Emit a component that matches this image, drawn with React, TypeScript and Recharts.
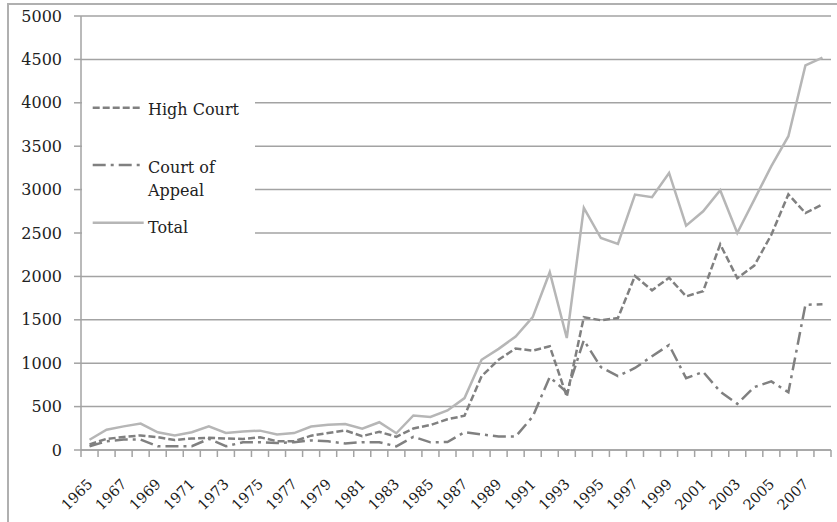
import React from 'react';
import { LineChart, Line, XAxis, YAxis, CartesianGrid } from 'recharts';

const years = [
  1965, 1966, 1967, 1968, 1969, 1970, 1971, 1972, 1973, 1974, 1975,
  1976, 1977, 1978, 1979, 1980, 1981, 1982, 1983, 1984, 1985, 1986,
  1987, 1988, 1989, 1990, 1991, 1992, 1993, 1994, 1995, 1996, 1997,
  1998, 1999, 2000, 2001, 2002, 2003, 2004, 2005, 2006, 2007, 2008,
];

const highCourt = [
  65, 128, 150, 168, 147, 115, 132, 140, 132, 128, 147,
  102, 100, 165, 195, 225, 160, 210, 152, 248, 288, 354,
  395, 850, 1040, 1170, 1145, 1195, 615, 1530, 1495, 1520, 2005,
  1840, 1985, 1770, 1830, 2370, 1980, 2125, 2480, 2945, 2730, 2830,
];

const courtOfAppeal = [
  43, 100, 120, 120, 43, 43, 43, 128, 43, 89, 89,
  81, 90, 110, 100, 75, 90, 90, 42, 152, 88, 92,
  205, 180, 155, 155, 385, 840, 665, 1265, 955, 850, 945,
  1080, 1210, 827, 900, 673, 532, 725, 790, 665, 1673, 1680,
];

const total = [
  118, 234, 272, 304, 204, 168, 204, 272, 197, 212, 223,
  180, 195, 270, 290, 300, 245, 320, 193, 398, 380, 455,
  598, 1040, 1165, 1308, 1530, 2048, 1290, 2790, 2442, 2375, 2942,
  2912, 3192, 2585, 2750, 2992, 2500, 2885, 3270, 3615, 4430, 4520,
];

const yTicks = [0, 500, 1000, 1500, 2000, 2500, 3000, 3500, 4000, 4500, 5000];
const labelYears = years.filter((_, i) => i % 2 === 0);
const boundaries = [...years.map((y) => y - 0.5), years[years.length - 1] + 0.5];
const xTicks = [...boundaries, ...labelYears].sort((a, b) => a - b);

const data = years.map((year, i) => ({
  year,
  hc: highCourt[i],
  coa: courtOfAppeal[i],
  total: total[i],
}));

const GRID = '#a3a3a3';
const DARK = '#808080';
const LIGHT = '#b6b6b6';
const FONT = '"DejaVu Serif", serif';
const HC_DASH = '7 3';
const COA_DASH = '13 5 3 5';

const XTick = (props: any) => {
  const { x, y, payload } = props;
  const v = payload.value;
  if (Number.isInteger(v)) {
    const ax = x + 4;
    const ay = y + 35;
    return (
      <text
        x={ax}
        y={ay}
        textAnchor="end"
        transform={`rotate(-45, ${ax}, ${ay})`}
        fontFamily={FONT}
        fontSize={14.5}
        fill="#1a1a1a"
      >
        {v}
      </text>
    );
  }
  return <line x1={x} x2={x} y1={y} y2={y + 7} stroke={GRID} strokeWidth={1.5} />;
};

const LegendBox = () => (
  <div
    style={{
      position: 'absolute',
      left: 82,
      top: 85,
      width: 173,
      height: 160,
      background: '#fff',
    }}
  >
    <svg width={173} height={160}>
      <line x1={10.7} x2={60.7} y1={22.7} y2={22.7} stroke={DARK} strokeWidth={2.5} strokeDasharray={HC_DASH} />
      <text x={66} y={30} fontFamily={FONT} fontSize={16} fill="#222">High Court</text>
      <line x1={10.7} x2={60.7} y1={80} y2={80} stroke={DARK} strokeWidth={2.5} strokeDasharray={COA_DASH} />
      <text x={66} y={88} fontFamily={FONT} fontSize={16} fill="#222">Court of</text>
      <text x={66} y={111} fontFamily={FONT} fontSize={16} fill="#222">Appeal</text>
      <line x1={10.7} x2={61.7} y1={137.7} y2={137.7} stroke={LIGHT} strokeWidth={2.5} />
      <text x={66} y={148} fontFamily={FONT} fontSize={16} fill="#222">Total</text>
    </svg>
  </div>
);

export default function App() {
  return (
    <div
      style={{
        position: 'absolute',
        left: 0,
        top: 0,
        width: 837,
        height: 522,
        overflow: 'hidden',
        background: '#fff',
      }}
    >
      <div
        style={{
          position: 'absolute',
          left: 7,
          top: 3,
          width: 1000,
          height: 1000,
          borderLeft: '2px solid #b0b0b0',
          borderTop: '2px solid #b0b0b0',
        }}
      />
      <div style={{ position: 'absolute', left: 0, top: 0 }}>
        <LineChart
          width={837}
          height={522}
          data={data}
          margin={{ top: 16, right: 6, bottom: 0, left: 8 }}
        >
          <CartesianGrid vertical={false} stroke={GRID} strokeWidth={1.5} />
          <XAxis
            dataKey="year"
            type="number"
            domain={[1964.5, 2008.5]}
            ticks={xTicks}
            interval={0}
            tickSize={0}
            tickMargin={0}
            tickLine={false}
            tick={<XTick />}
            axisLine={{ stroke: GRID, strokeWidth: 1.5 }}
            height={72}
            allowDecimals
          />
          <YAxis
            domain={[0, 5000]}
            ticks={yTicks}
            interval={0}
            width={73}
            tickSize={7}
            tickMargin={12}
            tickLine={{ stroke: GRID, strokeWidth: 1.5 }}
            axisLine={{ stroke: GRID, strokeWidth: 1.5 }}
            tick={{ fontFamily: FONT, fontSize: 16, fill: '#222' }}
          />
          <Line
            dataKey="total"
            type="linear"
            stroke={LIGHT}
            strokeWidth={2.5}
            dot={false}
            isAnimationActive={false}
          />
          <Line
            dataKey="hc"
            type="linear"
            stroke={DARK}
            strokeWidth={2.5}
            strokeDasharray={HC_DASH}
            dot={false}
            isAnimationActive={false}
          />
          <Line
            dataKey="coa"
            type="linear"
            stroke={DARK}
            strokeWidth={2.5}
            strokeDasharray={COA_DASH}
            dot={false}
            isAnimationActive={false}
          />
        </LineChart>
      </div>
      <LegendBox />
    </div>
  );
}
